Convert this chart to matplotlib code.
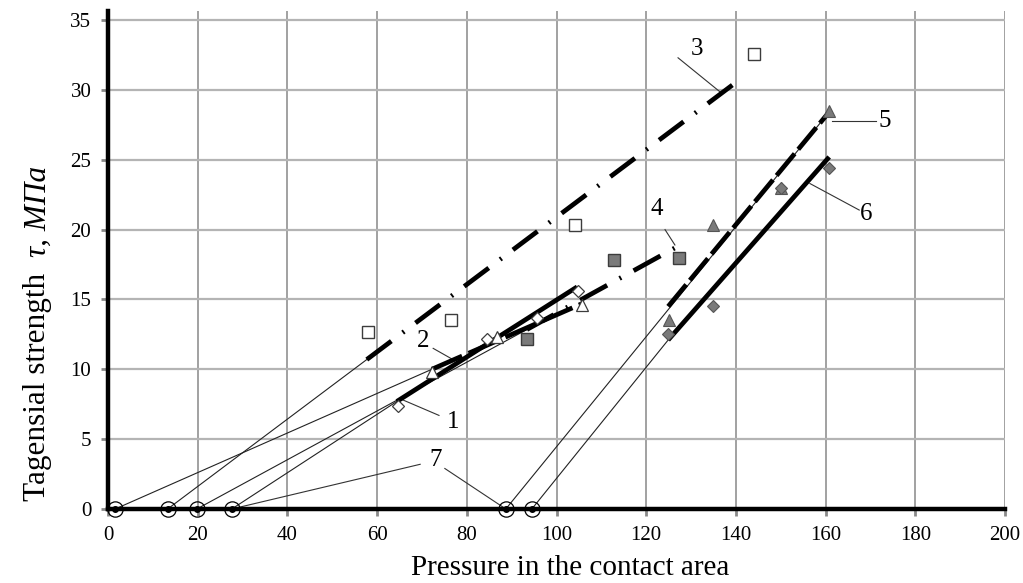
import matplotlib
matplotlib.use("Agg")
import matplotlib.pyplot as plt
import numpy as np

plt.rcParams['font.family'] = ['Liberation Serif', 'DejaVu Serif']

# ---- data ----
# series markers
s1_x = [64.7, 84.6, 95.6, 104.8]          # white diamonds
s1_y = [7.4, 12.2, 13.7, 15.6]
s2_x = [72.2, 86.7, 105.7]                # white triangles
s2_y = [9.8, 12.3, 14.6]
s3_x = [58.0, 76.5, 104.1, 144.0]         # white squares
s3_y = [12.7, 13.5, 20.3, 32.6]
s4_x = [93.4, 112.8, 127.3]               # grey squares
s4_y = [12.2, 17.8, 18.0]
s5_x = [125.0, 134.9, 150.0, 160.8]       # grey triangles
s5_y = [13.5, 20.3, 23.0, 28.5]
s6_x = [124.9, 134.9, 150.0, 160.8]       # grey diamonds
s6_y = [12.5, 14.5, 23.0, 24.4]

# fitted lines: (x_start, y_start, x_end, y_end)
line1 = [64.4, 7.7, 104.6, 15.9]
line2 = [72.2, 10.0, 105.7, 14.7]
line3 = [57.7, 10.7, 141.5, 30.9]
line4 = [93.4, 12.85, 127.3, 18.85]
line5 = [124.9, 14.5, 161.0, 28.5]
line6 = [124.9, 12.1, 160.8, 25.2]

# x-axis intercepts (circles) of the extrapolations
intercepts = [1.6, 13.3, 19.8, 27.6, 88.7, 94.5]

x_ticks = [0, 20, 40, 60, 80, 100, 120, 140, 160, 180, 200]
y_ticks = [0, 5, 10, 15, 20, 25, 30, 35]

# ---- figure ----
W, H = 1023, 583
fig = plt.figure(figsize=(W / 100, H / 100), dpi=100)
ax = fig.add_axes([108 / W, (H - 509) / H, (1005 - 108) / W, (509 - 11) / H])
ax.set_xlim(0, 200)
ax.set_ylim(0, 35.65)

# grid
for x in x_ticks[1:]:
    ax.axvline(x, color='#9a9a9a', lw=1.3, zorder=1)
for y in y_ticks[1:]:
    ax.axhline(y, color='#b4b4b4', lw=1.6, zorder=1)

for side in ['top', 'right']:
    ax.spines[side].set_visible(False)
ax.spines['left'].set_linewidth(3.2)
ax.spines['bottom'].set_linewidth(3.2)
ax.spines['left'].set_zorder(6)
ax.spines['bottom'].set_zorder(6)

ax.set_xticks(x_ticks)
ax.set_yticks(y_ticks)
ax.tick_params(axis='both', length=5, width=2, color='#8a8a8a',
               labelsize=15, pad=7)
ax.tick_params(axis='x', pad=7)

# thin extrapolation lines from intercepts to fitted lines
thin_targets = [
    (intercepts[0], line2[0], line2[1]),
    (intercepts[1], line3[0], line3[1]),
    (intercepts[2], line4[0], line4[1]),
    (intercepts[3], line1[0], line1[1]),
    (intercepts[4], line5[2], line5[3]),
    (intercepts[5], line6[0], line6[1]),
]
for x0, x1, y1 in thin_targets:
    ax.plot([x0, x1], [0, y1], color='#222222', lw=0.8, zorder=3)

lw = 3.4
def draw(line, **kw):
    ax.plot([line[0], line[2]], [line[1], line[3]], color='black', lw=lw,
            zorder=4, solid_capstyle='butt', dash_capstyle='butt', **kw)

draw(line1, linestyle='-')
draw(line2, linestyle=(0, (7, 1.5)))
draw(line3, linestyle=(0, (6.5, 3, 0.4, 3)))
draw(line4, linestyle=(0, (6.5, 3, 0.4, 3)))
draw(line5, linestyle=(0, (6, 1.2)))
draw(line6, linestyle='-')

# markers
ek = '#3c3c3c'
gray = '#7a7a7a'
ax.plot(s1_x, s1_y, 'D', ms=6.5, mfc='white', mec=ek, mew=0.9, zorder=5, ls='none')
ax.plot(s2_x, s2_y, '^', ms=9, mfc='white', mec=ek, mew=0.9, zorder=5, ls='none')
ax.plot(s3_x, s3_y, 's', ms=9, mfc='white', mec=ek, mew=1.0, zorder=5, ls='none')
ax.plot(s4_x, s4_y, 's', ms=9, mfc=gray, mec=ek, mew=1.0, zorder=5, ls='none')
ax.plot(s5_x, s5_y, '^', ms=9, mfc=gray, mec='#555555', mew=0.8, zorder=5, ls='none')
ax.plot(s6_x, s6_y, 'D', ms=6.5, mfc=gray, mec='#555555', mew=0.8, zorder=5, ls='none')

# intercept circles
ax.plot(intercepts, [0] * len(intercepts), 'o', ms=11, mfc='none', mec='black',
        mew=0.9, zorder=7, clip_on=False, ls='none')
ax.plot(intercepts, [0] * len(intercepts), 'o', ms=4, mfc='black', mec='black',
        zorder=7, clip_on=False, ls='none')

# curve labels with leader lines
lab_fs = 18
lead = dict(color='#333333', lw=0.8, zorder=3)
ax.text(75.6, 6.2, '1', fontsize=lab_fs, ha='left', va='center')
ax.plot([73.8, 65.8], [6.7, 7.8], **lead)
ax.text(70.2, 12.0, '2', fontsize=lab_fs, ha='center', va='center')
ax.plot([72.5, 76.9], [11.5, 10.7], **lead)
ax.text(131.3, 32.9, '3', fontsize=lab_fs, ha='center', va='center')
ax.plot([127.1, 136.5], [32.3, 29.85], **lead)
ax.text(122.4, 21.5, '4', fontsize=lab_fs, ha='center', va='center')
ax.plot([124.2, 126.4], [20.0, 18.9], **lead)
ax.text(173.2, 27.8, '5', fontsize=lab_fs, ha='center', va='center')
ax.plot([161.5, 171.2], [27.8, 27.8], **lead)
ax.text(169.0, 21.1, '6', fontsize=lab_fs, ha='center', va='center')
ax.plot([156.5, 167.5], [23.3, 21.4], **lead)
ax.text(73.1, 3.5, '7', fontsize=lab_fs, ha='center', va='center')
ax.plot([69.6, intercepts[3]], [3.2, 0], **lead)
ax.plot([75.1, intercepts[4]], [2.9, 0], **lead)

# axis labels
fig.text(570 / W, 1 - 568 / H, 'Pressure in the contact area', fontsize=21,
         ha='center', va='center')
fig.text(38 / W, 1 - 501 / H, 'Tagensial strength', fontsize=22.5,
         rotation=90, ha='center', va='bottom')
fig.text(38 / W, 1 - 257 / H, 'τ, МПа', fontsize=22.5, style='italic',
         rotation=90, ha='center', va='bottom')

fig.savefig('out.png', dpi=100)
